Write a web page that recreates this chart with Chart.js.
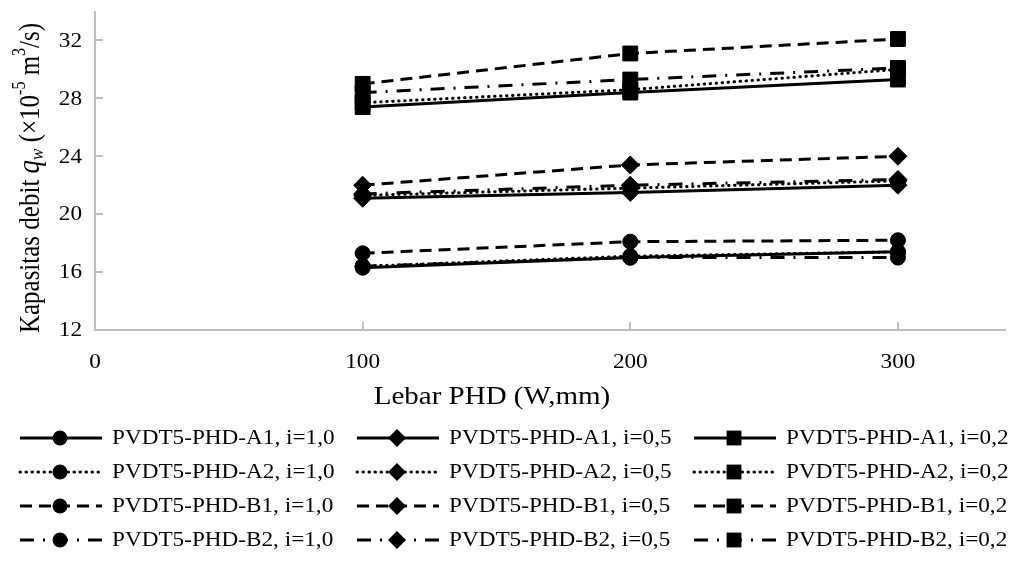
<!DOCTYPE html>
<html lang="id">
<head>
  <meta charset="UTF-8">
  <title>Kapasitas debit vs Lebar PHD</title>
  <script src="https://cdn.jsdelivr.net/npm/chart.js"></script>
  <style>
    body {
      margin: 0;
      background: #fff;
    }
    #wrap {
      position: relative;
      width: 1019px;
      height: 563px;
    }
  </style>
</head>
<body>

  <div id="wrap">
    <canvas id="qwChart"></canvas>
  </div>

  <script>
    // data
    const widths = [100, 200, 300];
    const xTicks = [0, 100, 200, 300];
    const yTicks = [12, 16, 20, 24, 28, 32];

    // i = 1,0
    const a1_10 = [16.3, 17.0, 17.4];
    const a2_10 = [16.4, 17.1, 17.4];
    const b1_10 = [17.3, 18.1, 18.2];
    const b2_10 = [16.4, 17.0, 17.0];
    // i = 0,5
    const a1_05 = [21.1, 21.5, 22.0];
    const a2_05 = [21.3, 21.8, 22.3];
    const b1_05 = [22.0, 23.4, 24.0];
    const b2_05 = [21.4, 22.0, 22.4];
    // i = 0,2
    const a1_02 = [27.4, 28.4, 29.3];
    const a2_02 = [27.7, 28.6, 30.0];
    const b1_02 = [29.0, 31.1, 32.1];
    const b2_02 = [28.4, 29.3, 30.1];

    const labels = [
      'PVDT5-PHD-A1, i=1,0', 'PVDT5-PHD-A1, i=0,5', 'PVDT5-PHD-A1, i=0,2',
      'PVDT5-PHD-A2, i=1,0', 'PVDT5-PHD-A2, i=0,5', 'PVDT5-PHD-A2, i=0,2',
      'PVDT5-PHD-B1, i=1,0', 'PVDT5-PHD-B1, i=0,5', 'PVDT5-PHD-B1, i=0,2',
      'PVDT5-PHD-B2, i=1,0', 'PVDT5-PHD-B2, i=0,5', 'PVDT5-PHD-B2, i=0,2'
    ];
    const values = [a1_10, a1_05, a1_02, a2_10, a2_05, a2_02, b1_10, b1_05, b1_02, b2_10, b2_05, b2_02];

    const SERIF = '"Liberation Serif", "Times New Roman", serif';
    const STRETCH = 1.16; // the figure is a bit wider than tall

    // line style per row (A1 solid, A2 dotted, B1 dashed, B2 long dash dot)
    const dashes = [[], [0.5, 5.5], [12, 7], [14, 9, 2, 9]];
    const markers = ['circle', 'rectRot', 'rect'];
    const markerSize = { circle: 7.5, rectRot: 9, rect: 10.5 };

    const datasets = values.map((vals, k) => {
      const row = Math.floor(k / 3);
      const col = k % 3;
      return {
        label: labels[k],
        data: widths.map((w, i) => ({ x: w, y: vals[i] })),
        borderColor: '#000',
        backgroundColor: '#000',
        borderWidth: 3,
        borderDash: dashes[row],
        borderCapStyle: row === 1 ? 'round' : 'butt',
        pointStyle: markers[col],
        pointRadius: markerSize[markers[col]],
        pointBorderWidth: 1,
        pointBackgroundColor: '#000',
        pointBorderColor: '#000',
        tension: 0
      };
    });

    function drawMarker(ctx, style, x, y, r) {
      ctx.beginPath();
      if (style === 'circle') {
        ctx.arc(x, y, r, 0, Math.PI * 2);
      } else if (style === 'rect') {
        const s = r * Math.SQRT1_2;
        ctx.rect(x - s, y - s, 2 * s, 2 * s);
      } else {
        ctx.moveTo(x - r, y);
        ctx.lineTo(x, y - r);
        ctx.lineTo(x + r, y);
        ctx.lineTo(x, y + r);
        ctx.closePath();
      }
      ctx.fill();
    }

    // text squeezed a little wider, like the original figure
    function wideText(ctx, txt, x, y, align) {
      ctx.save();
      ctx.translate(x, y);
      ctx.scale(STRETCH, 1);
      ctx.textAlign = align;
      ctx.fillText(txt, 0, 0);
      ctx.restore();
    }

    // tick labels, inside tick marks, titles and the legend grid
    const decor = {
      id: 'decor',
      afterDraw(chart) {
        const ctx = chart.ctx;
        const xs = chart.scales.x, ys = chart.scales.y;
        const area = chart.chartArea;
        ctx.save();
        ctx.strokeStyle = '#bfbfbf';
        ctx.lineWidth = 2;
        yTicks.slice(1).forEach(v => {
          const py = Math.round(ys.getPixelForValue(v));
          ctx.beginPath();
          ctx.moveTo(area.left, py);
          ctx.lineTo(area.left + 8, py);
          ctx.stroke();
        });
        xTicks.slice(1).forEach(v => {
          const px = Math.round(xs.getPixelForValue(v));
          ctx.beginPath();
          ctx.moveTo(px, area.bottom);
          ctx.lineTo(px, area.bottom - 8);
          ctx.stroke();
        });

        ctx.fillStyle = '#000';
        ctx.textBaseline = 'middle';
        ctx.font = '20px ' + SERIF;
        yTicks.forEach(v => wideText(ctx, String(v), 82, ys.getPixelForValue(v) + 1, 'right'));
        xTicks.forEach(v => wideText(ctx, String(v), xs.getPixelForValue(v), 363, 'center'));

        // x title
        ctx.font = '25px ' + SERIF;
        wideText(ctx, 'Lebar PHD (W,mm)', 492, 397, 'center');

        // y title, rich text rotated
        const parts = [
          { t: 'Kapasitas debit ', f: '25px ' + SERIF, dy: 0 },
          { t: 'q', f: 'italic 27px ' + SERIF, dy: 0 },
          { t: 'w', f: 'italic 17px ' + SERIF, dy: 6 },
          { t: ' (×10', f: '25px ' + SERIF, dy: 0 },
          { t: '-5', f: '16px ' + SERIF, dy: -9 },
          { t: ' m', f: '25px ' + SERIF, dy: 0 },
          { t: '3', f: '16px ' + SERIF, dy: -9 },
          { t: '/s)', f: '25px ' + SERIF, dy: 0 }
        ];
        let total = 0;
        parts.forEach(p => { ctx.font = p.f; p.w = ctx.measureText(p.t).width; total += p.w; });
        ctx.save();
        ctx.translate(31, 178);
        ctx.scale(STRETCH, 1);
        ctx.rotate(-Math.PI / 2);
        ctx.textAlign = 'left';
        let cx = -total / 2;
        parts.forEach(p => {
          ctx.font = p.f;
          ctx.fillText(p.t, cx, p.dy);
          cx += p.w;
        });
        ctx.restore();

        // legend, 3 columns x 4 rows
        const colText = [112, 449, 786];
        const rowsY = [438, 472, 506, 540];
        chart.data.datasets.forEach((ds, k) => {
          const tx = colText[k % 3];
          const m = tx - 52;
          const y = rowsY[Math.floor(k / 3)];
          ctx.strokeStyle = '#000';
          ctx.fillStyle = '#000';
          ctx.lineWidth = 3;
          ctx.lineCap = ds.borderCapStyle;
          ctx.setLineDash(ds.borderDash);
          ctx.beginPath();
          ctx.moveTo(m - 40, y);
          ctx.lineTo(m + 42, y);
          ctx.stroke();
          ctx.setLineDash([]);
          drawMarker(ctx, ds.pointStyle, m, y, ds.pointRadius);
          ctx.font = '20px ' + SERIF;
          ctx.textBaseline = 'middle';
          wideText(ctx, ds.label, tx, y + 1, 'left');
        });
        ctx.restore();
      }
    };

    const ctx = document.getElementById('qwChart').getContext('2d');
    new Chart(ctx, {
      type: 'line',
      data: { datasets: datasets },
      options: {
        responsive: true,
        maintainAspectRatio: false,
        animation: false,
        layout: { padding: { top: 11, right: 14, left: 0, bottom: 0 } },
        plugins: {
          legend: { display: false },
          tooltip: { enabled: false }
        },
        scales: {
          x: {
            type: 'linear',
            min: 0,
            max: 340,
            afterBuildTicks: s => { s.ticks = xTicks.map(v => ({ value: v })); },
            afterFit: s => { s.height = 233; },
            grid: { display: false },
            border: { display: true, color: '#bfbfbf', width: 2 },
            ticks: { display: false }
          },
          y: {
            min: 12,
            max: 34,
            afterBuildTicks: s => { s.ticks = yTicks.map(v => ({ value: v })); },
            afterFit: s => { s.width = 95; },
            grid: { display: false },
            border: { display: true, color: '#bfbfbf', width: 2 },
            ticks: { display: false }
          }
        }
      },
      plugins: [decor]
    });
  </script>
</body>
</html>
